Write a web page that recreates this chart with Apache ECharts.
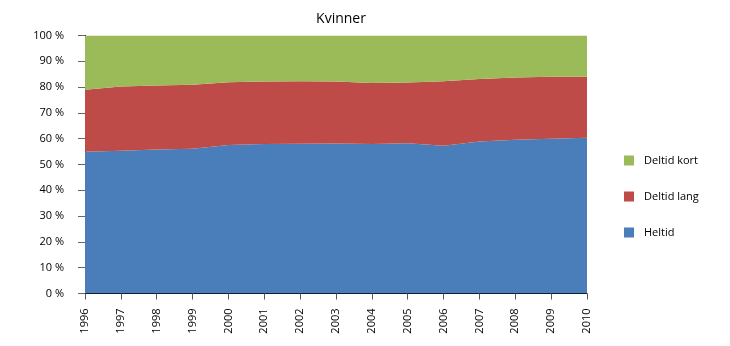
<!DOCTYPE html>
<html>
<head>
<meta charset="utf-8">
<script src="https://cdn.jsdelivr.net/npm/echarts@6/dist/echarts.min.js"></script>
<style>html,body{margin:0;padding:0;background:#fff}#c{width:730px;height:346px}</style>
</head>
<body>
<div id="c"></div>
<script>
var years = ['1996','1997','1998','1999','2000','2001','2002','2003','2004','2005','2006','2007','2008','2009','2010'];
var heltid = [54.9, 55.3, 55.8, 56.1, 57.6, 57.9, 58.0, 58.1, 57.9, 58.2, 57.3, 58.9, 59.6, 60.0, 60.4];
var deltidLang = [24.1, 24.9, 24.8, 24.8, 24.3, 24.3, 24.3, 24.1, 23.7, 23.6, 25.0, 24.2, 24.1, 24.0, 23.6];
var deltidKort = [21.0, 19.8, 19.4, 19.1, 18.1, 17.8, 17.7, 17.8, 18.4, 18.2, 17.7, 16.9, 16.3, 16.0, 16.0];
var yTicks = [0, 10, 20, 30, 40, 50, 60, 70, 80, 90, 100];

var font = 'Open Sans, Lato, sans-serif';
function area(name, data, color) {
  return {
    name: name, type: 'line', stack: 'total', data: data,
    symbol: 'none', smooth: false,
    lineStyle: { width: 0 },
    areaStyle: { color: color, opacity: 1 },
    itemStyle: { color: color },
    emphasis: { disabled: true }
  };
}
var chart = echarts.init(document.getElementById('c'), null, { renderer: 'canvas' });
chart.setOption({
  animation: false,
  title: {
    text: 'Kvinner', left: 336, top: 7, textAlign: 'center',
    textStyle: { fontFamily: font, fontSize: 14, fontWeight: 'normal', color: '#000' }
  },
  legend: {
    orient: 'vertical', left: 619, top: 150,
    itemWidth: 10, itemHeight: 10, itemGap: 25,
    icon: 'rect',
    data: ['Deltid kort', 'Deltid lang', 'Heltid'],
    textStyle: { fontFamily: font, fontSize: 11, color: '#000', padding: [0, 0, 0, 5] }
  },
  grid: { left: 85, right: 143, top: 35.5, bottom: 52.5, containLabel: false },
  xAxis: {
    type: 'category', data: years, boundaryGap: false,
    axisLine: { lineStyle: { color: '#000', width: 1 } },
    axisTick: { show: true, length: 6, alignWithLabel: true, lineStyle: { color: '#555' } },
    axisLabel: { rotate: 90, margin: 15, fontFamily: font, fontSize: 11, color: '#000', interval: 0 },
    splitLine: { show: false }
  },
  yAxis: {
    type: 'value', min: yTicks[0], max: yTicks[yTicks.length - 1], interval: 10,
    axisLine: { show: true, lineStyle: { color: '#000', width: 1 } },
    axisTick: { show: true, length: 7, lineStyle: { color: '#666' } },
    axisLabel: { formatter: '{value} %', margin: 21, fontFamily: font, fontSize: 11, color: '#000' },
    splitLine: { show: false }
  },
  series: [
    area('Heltid', heltid, '#4A7EBB'),
    area('Deltid lang', deltidLang, '#BE4B48'),
    area('Deltid kort', deltidKort, '#9BBB59')
  ]
});
</script>
</body>
</html>
